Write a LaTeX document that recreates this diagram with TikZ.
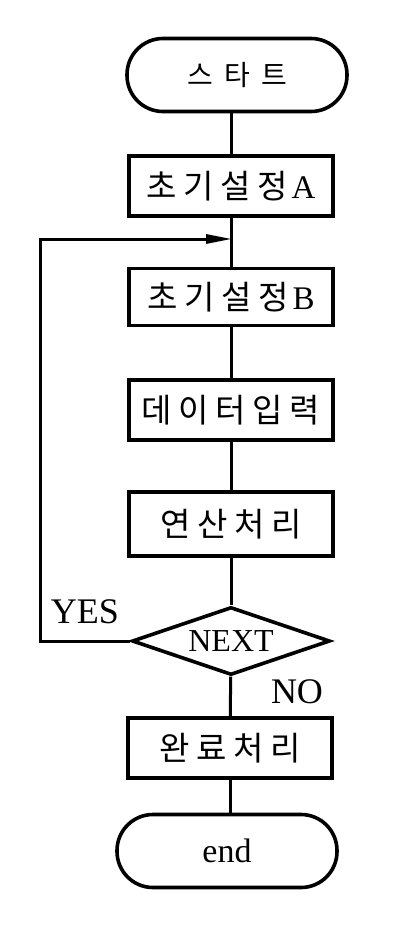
\documentclass[tikz,border=0pt]{standalone}
\usepackage{fontspec}
\setmainfont{Liberation Serif}
\newfontfamily\krA[LetterSpace=20]{Noto Sans CJK KR}
\newfontfamily\krB[LetterSpace=40]{Noto Sans CJK KR}
\usetikzlibrary{shapes.geometric,arrows.meta}
\begin{document}
\begin{tikzpicture}[x=1pt,y=-1pt,
  procbox/.style={draw,line width=3.6pt,minimum width=204pt,minimum height=60pt,inner sep=0pt,
    font=\fontsize{33}{33}\krA},
  term/.style={draw,line width=3.6pt,rounded corners=36pt,minimum width=220pt,minimum height=73pt,inner sep=0pt},
  conn/.style={line width=3pt},
  lbl/.style={font=\fontsize{36}{36}\selectfont,inner sep=0pt}]
\useasboundingbox (0,0) rectangle (410,928);
\node[term,font=\fontsize{28}{28}\krB] (start) at (237,75) {스타트};
\node[procbox] (a) at (231,186) {초기설정\hspace{4pt}{\rmfamily\fontsize{33}{33}\selectfont A}};
\node[procbox,minimum height=57pt] (b) at (231,297) {초기설정\hspace{4pt}{\rmfamily\fontsize{33}{33}\selectfont B}};
\node[procbox] (c) at (231,410) {데이터입력};
\node[procbox,minimum height=64pt] (d) at (231,524) {연산처리};
\node[draw,diamond,line width=3.6pt,aspect=2.91,minimum width=198pt,minimum height=68pt,inner sep=0pt] (q) at (231,641) {};
\node[font=\fontsize{32}{32}\selectfont,inner sep=0pt] (qt) at (q) {NEXT};
\node[procbox] (e) at (230,748) {완료처리};
\node[term,font=\fontsize{34}{34}\selectfont] (stop) at (227,851) {end};
\node[lbl] (yes) at (85,612) {YES};
\node[lbl] (no) at (297,692) {NO};
\coordinate (lc) at (40,239);
\coordinate (j) at (232,239);
\draw[conn] (a.north |- start.south) -- (a.north);
\draw[conn] (a) -- (b);
\draw[conn] (b) -- (c);
\draw[conn] (c) -- (d);
\draw[conn] (d) -- (q);
\draw[conn] (q) -- (e);
\draw[conn] (e.south) -- (e.south |- stop.north);
\draw[conn,-{Triangle[length=26pt,width=9pt]}] (q.west) -| (lc) -- (j);
\end{tikzpicture}
\end{document}
